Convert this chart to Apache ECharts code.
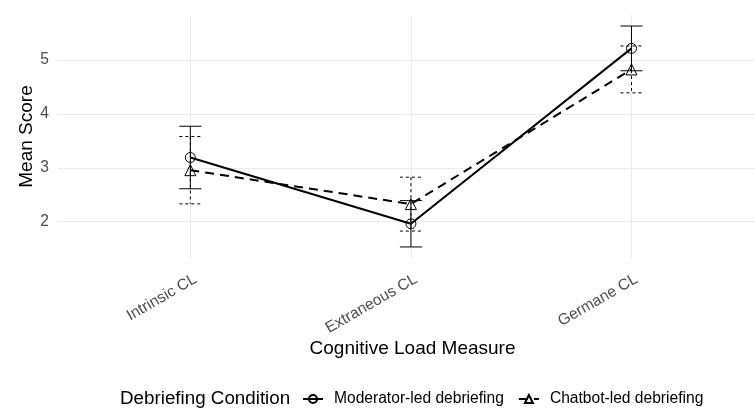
<!DOCTYPE html>
<html>
<head>
<meta charset="utf-8">
<script src="https://cdn.jsdelivr.net/npm/echarts@6/dist/echarts.min.js"></script>
<style>
  html, body { margin: 0; padding: 0; background: #fff; }
  #chart { width: 755px; height: 410px; }
</style>
</head>
<body>
<div id="chart"></div>
<script>
// Cognitive load means +/- error by debriefing condition
const categories = ["Intrinsic CL", "Extraneous CL", "Germane CL"];
const catPos = [1, 2, 3];
const moderatorMean = [3.19, 1.96, 5.215];
const moderatorErr = [0.58, 0.43, 0.415];
const chatbotMean = [2.955, 2.325, 4.825];
const chatbotErr = [0.625, 0.5, 0.435];
const yTicks = [2, 3, 4, 5];

const FONT = "'Liberation Sans', Arial, sans-serif";
const GRID = "#EBEBEB";
const TICK_TEXT = "#4D4D4D";

const pairs = (vals) => vals.map((v, i) => [catPos[i], v]);
const bars = (mean, err) => mean.map((m, i) => [catPos[i], m - err[i], m + err[i]]);

// errorbar drawn with the axes' own scale: vertical stem + two caps
function errorBar(dash) {
  return (params, api) => {
    const x = api.value(0);
    const top = api.coord([x, api.value(2)]);
    const bot = api.coord([x, api.value(1)]);
    const half = api.size([0.05, 0])[0];
    const style = { stroke: "#000", lineWidth: 1, lineDash: dash };
    return {
      type: "group",
      children: [
        { type: "line", shape: { x1: top[0], y1: top[1], x2: bot[0], y2: bot[1] }, style },
        { type: "line", shape: { x1: top[0] - half, y1: top[1], x2: top[0] + half, y2: top[1] }, style },
        { type: "line", shape: { x1: bot[0] - half, y1: bot[1], x2: bot[0] + half, y2: bot[1] }, style },
      ],
    };
  };
}

const chart = echarts.init(document.getElementById("chart"), null, { renderer: "canvas" });
chart.setOption({
  animation: false,
  textStyle: { fontFamily: FONT },
  // ggplot's discrete expansion runs the panel a little past the right edge,
  // so the axis is cut at 3.56 instead of 3.6
  grid: { left: 58, right: 0, top: 15, bottom: 152 },
  xAxis: {
    type: "value",
    min: 0.4,
    max: 3.56,
    name: "Cognitive Load Measure",
    nameLocation: "middle",
    nameGap: 81,
    nameMoveOverlap: false,
    nameTextStyle: { color: "#000", fontSize: 19, fontFamily: FONT, padding: [0, 0, 0, 12] },
    axisLine: { show: false },
    axisTick: { show: false, customValues: catPos },
    axisLabel: {
      customValues: catPos,
      rotate: 30,
      margin: 23,
      padding: [0, -6, 0, 0],
      color: TICK_TEXT,
      fontSize: 15.6,
      fontFamily: FONT,
      formatter: (v) => categories[Math.round(v) - 1] || "",
    },
    splitLine: { show: true, lineStyle: { color: GRID, width: 1 } },
  },
  yAxis: {
    type: "value",
    min: 1.325,
    max: 5.835,
    name: "Mean Score",
    nameLocation: "middle",
    nameGap: 22,
    nameMoveOverlap: false,
    nameTextStyle: { color: "#000", fontSize: 19, fontFamily: FONT },
    axisLine: { show: false },
    axisTick: { show: false, customValues: yTicks },
    axisLabel: { customValues: yTicks, color: TICK_TEXT, fontSize: 15.6, fontFamily: FONT, margin: 9 },
    splitLine: { show: true, lineStyle: { color: GRID, width: 1 } },
  },
  legend: {
    left: 297,
    top: 386,
    itemWidth: 20,
    itemHeight: 10,
    itemGap: 14,
    textStyle: { color: "#000", fontSize: 15.6, fontFamily: FONT, padding: [0, 0, 0, 6] },
    data: ["Moderator-led debriefing", "Chatbot-led debriefing"],
  },
  graphic: [{
    type: "text",
    left: 120,
    top: 389,
    style: { text: "Debriefing Condition", fill: "#000", font: `18.8px ${FONT}` },
  }],
  series: [
    {
      name: "Moderator-led debriefing",
      type: "line",
      data: pairs(moderatorMean),
      symbol: "circle",
      symbolSize: 10,
      lineStyle: { color: "#000", width: 2 },
      itemStyle: { color: "rgba(0,0,0,0)", borderColor: "#000", borderWidth: 1 },
      z: 3,
    },
    {
      name: "Chatbot-led debriefing",
      type: "line",
      data: pairs(chatbotMean),
      symbol: "triangle",
      symbolSize: 11,
      lineStyle: { color: "#000", width: 2, type: [9, 6] },
      itemStyle: { color: "rgba(0,0,0,0)", borderColor: "#000", borderWidth: 1 },
      z: 3,
    },
    {
      type: "custom",
      renderItem: errorBar(null),
      encode: { x: 0, y: [1, 2] },
      data: bars(moderatorMean, moderatorErr),
      z: 2,
    },
    {
      type: "custom",
      renderItem: errorBar([3, 3]),
      encode: { x: 0, y: [1, 2] },
      data: bars(chatbotMean, chatbotErr),
      z: 2,
    },
  ],
});
</script>
</body>
</html>
